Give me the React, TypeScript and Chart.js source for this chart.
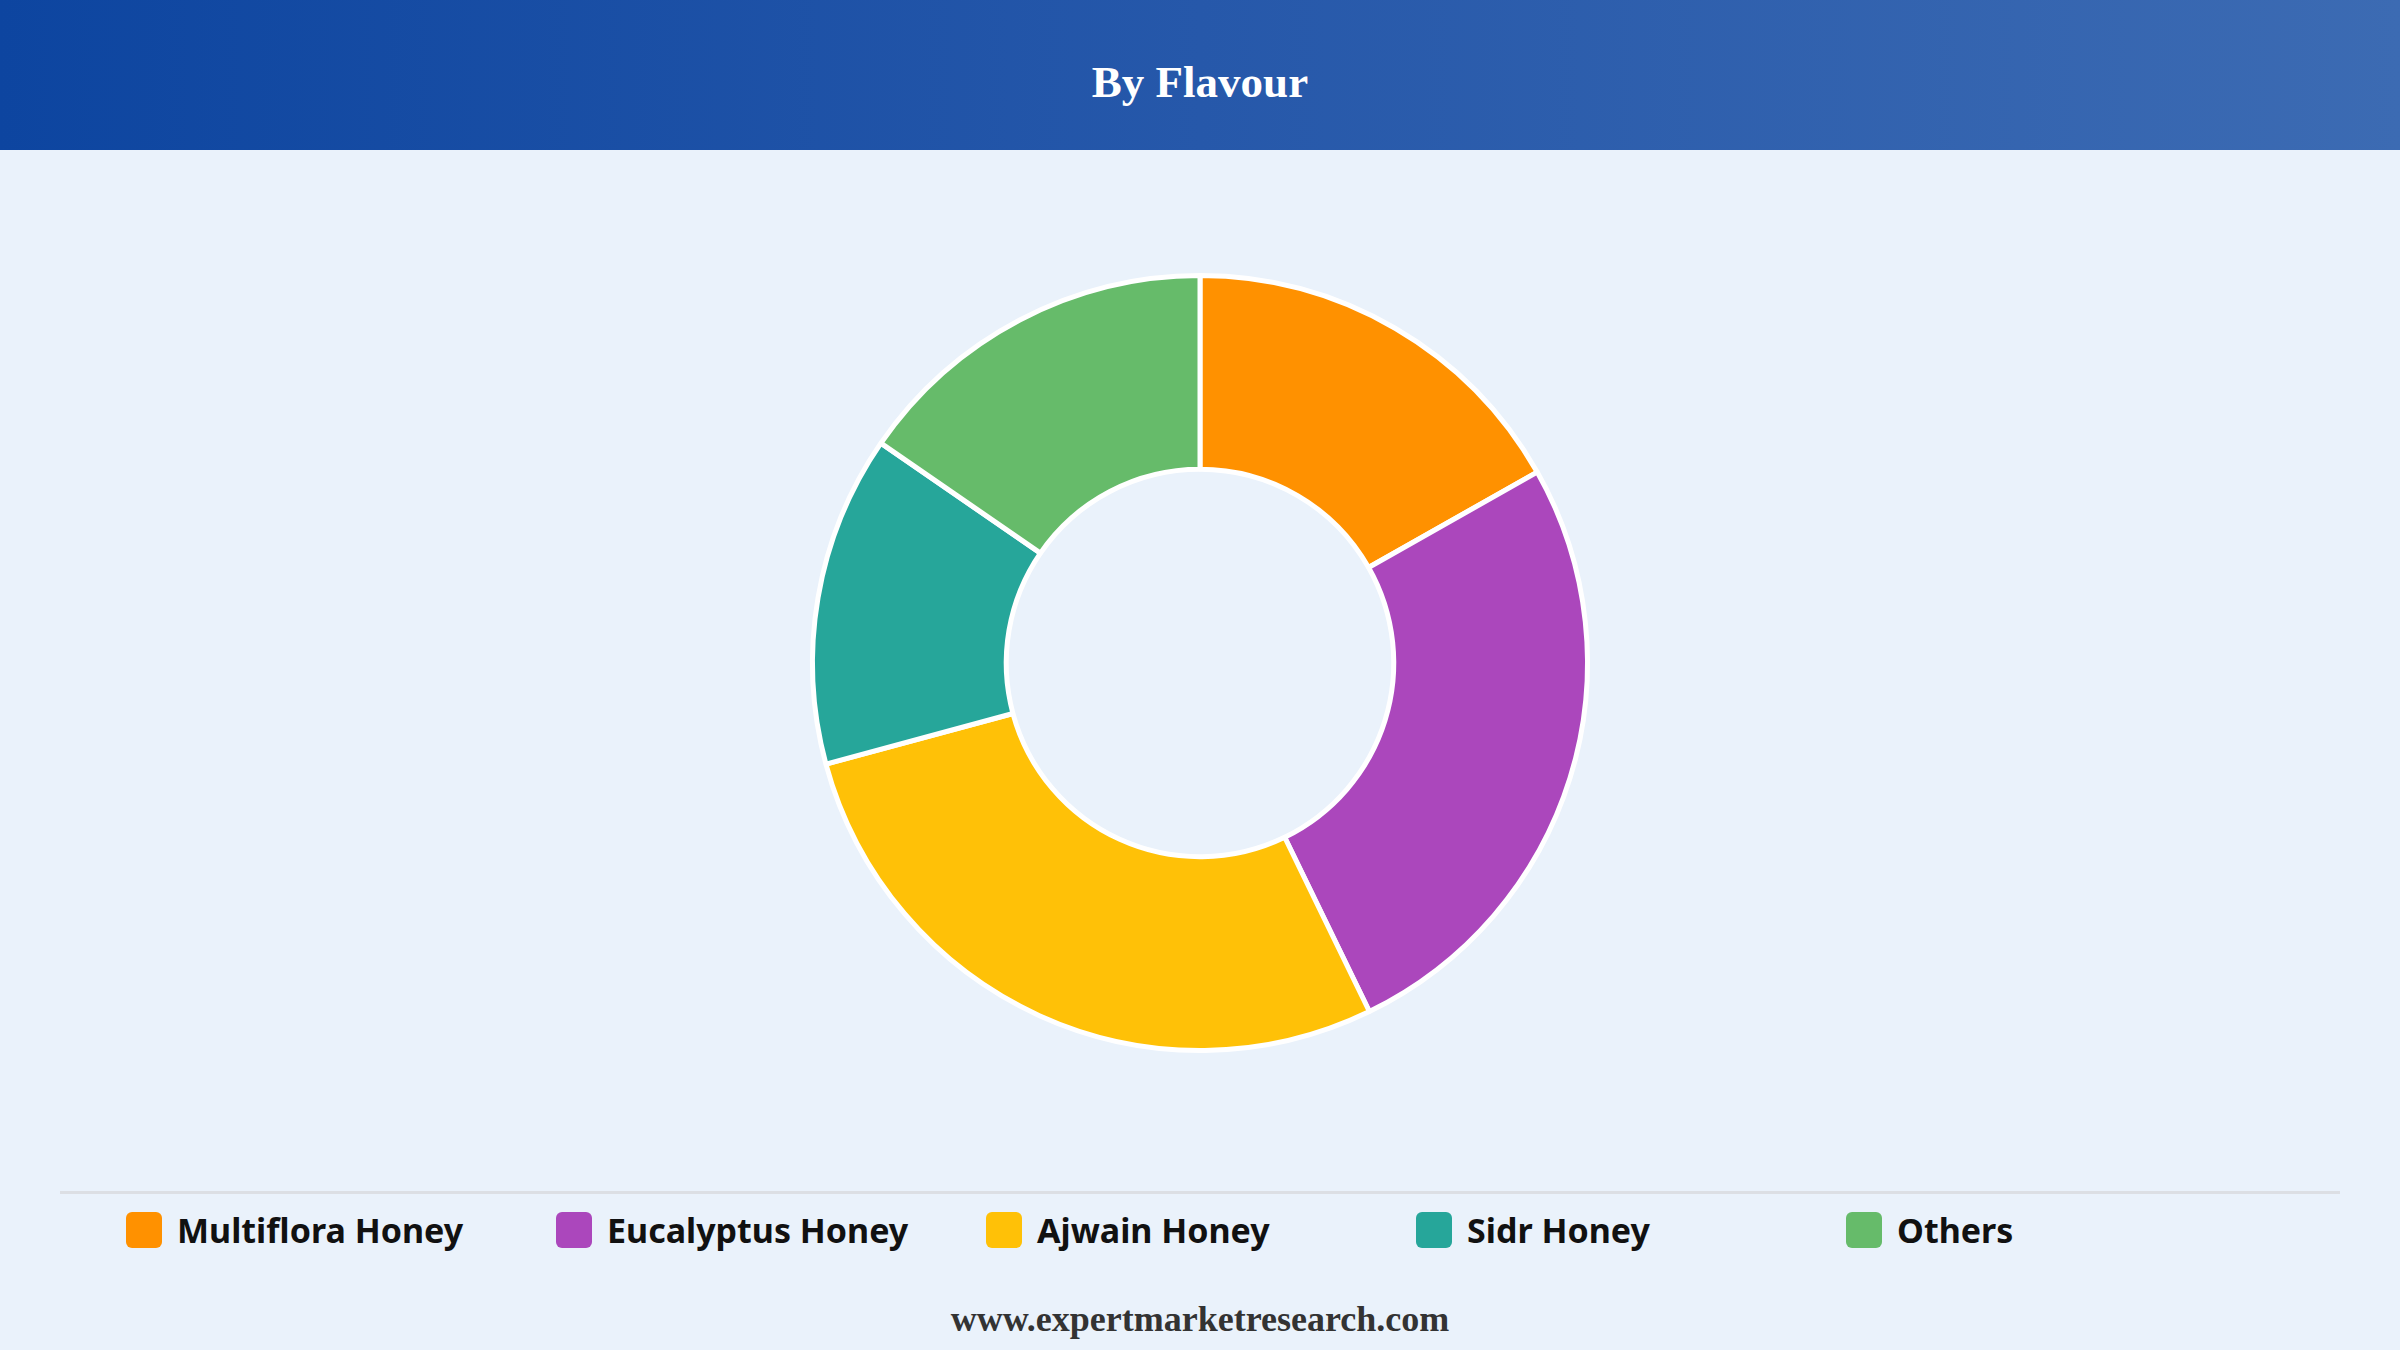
import React, { useEffect, useRef } from 'react'
import { Chart, registerables } from 'chart.js'

Chart.register(...registerables)

const categories = [
	'Multiflora Honey',
	'Eucalyptus Honey',
	'Ajwain Honey',
	'Sidr Honey',
	'Others',
]
const shares = [16.8, 26, 28, 13.8, 15.4]
const colours = ['#FF9100', '#AB47BC', '#FFC107', '#26A69A', '#66BB6A']

const FlavourDonut: React.FC = () => {
	const chartRef = useRef<HTMLCanvasElement>(null)

	useEffect(() => {
		if (!chartRef.current) return
		const context = chartRef.current.getContext('2d')
		if (!context) return

		const donut = new Chart(context, {
			type: 'doughnut',
			data: {
				labels: categories,
				datasets: [
					{
						data: shares,
						backgroundColor: colours,
						borderColor: '#ffffff',
						borderWidth: 5,
					},
				],
			},
			options: {
				animation: false,
				responsive: true,
				maintainAspectRatio: false,
				cutout: '50%',
				layout: { padding: 10 },
				plugins: {
					legend: { display: false },
					tooltip: { enabled: false },
					title: { display: false },
				},
			},
		})

		return () => {
			donut.destroy()
		}
	}, [])

	return <canvas ref={chartRef} />
}

const App: React.FC = () => {
	return (
		<div
			style={{
				position: 'absolute',
				left: 0,
				top: 0,
				width: 2400,
				height: 1350,
				background: '#EAF2FB',
				overflow: 'hidden',
			}}
		>
			<div
				style={{
					position: 'absolute',
					left: 0,
					top: 0,
					width: 2400,
					height: 150,
					background: 'linear-gradient(90deg, #0D45A0 0%, #2658AA 50%, #3C6BB3 100%)',
					display: 'flex',
					alignItems: 'center',
					justifyContent: 'center',
				}}
			>
				<span
					style={{
						color: '#ffffff',
						fontFamily: '"Liberation Serif", "Times New Roman", serif',
						fontWeight: 'bold',
						fontSize: 45,
						lineHeight: 1,
						marginTop: 14,
					}}
				>
					By Flavour
				</span>
			</div>

			<div
				style={{
					position: 'absolute',
					left: 0,
					top: 263,
					width: 2400,
					height: 800,
				}}
			>
				<FlavourDonut />
			</div>

			<div
				style={{
					position: 'absolute',
					left: 60,
					top: 1191,
					width: 2280,
					height: 3,
					background: '#DCDFE4',
				}}
			/>

			{categories.map((name, i) => (
				<div
					key={name}
					style={{
						position: 'absolute',
						left: 126 + i * 430,
						top: 1212,
						height: 36,
						display: 'flex',
						alignItems: 'center',
						whiteSpace: 'nowrap',
					}}
				>
					<div
						style={{
							width: 36,
							height: 36,
							borderRadius: 6,
							background: colours[i],
							marginRight: 15,
						}}
					/>
					<span
						style={{
							fontFamily: '"Noto Sans", sans-serif',
							fontWeight: 'bold',
							fontSize: 34,
							color: '#111111',
							lineHeight: 1,
						}}
					>
						{name}
					</span>
				</div>
			))}

			<div
				style={{
					position: 'absolute',
					left: 0,
					top: 1301,
					width: 2400,
					textAlign: 'center',
					fontFamily: '"Liberation Serif", "Times New Roman", serif',
					fontWeight: 'bold',
					fontSize: 36,
					lineHeight: 1,
					color: '#333333',
				}}
			>
				www.expertmarketresearch.com
			</div>
		</div>
	)
}

export default App
